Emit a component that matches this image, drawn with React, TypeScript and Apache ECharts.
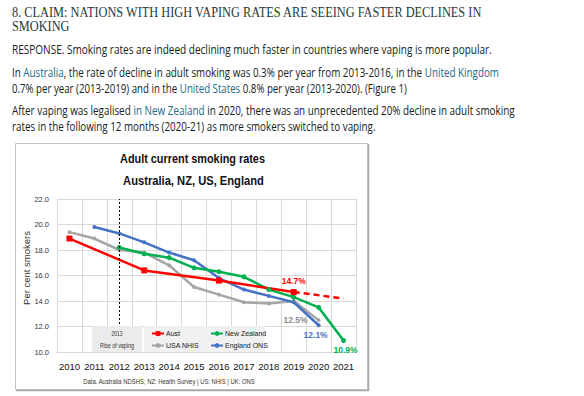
import React, { useEffect, useRef } from "react";
import * as echarts from "echarts";

const years = ["2010", "2011", "2012", "2013", "2014", "2015", "2016", "2017", "2018", "2019", "2020", "2021"];
const austValues = [18.9, null, null, 16.4, null, null, 15.6, null, null, 14.7, null, null];
const austProjection = [null, null, null, null, null, null, null, null, null, 14.7, null, 14.2];
const usaValues = [19.4, 18.9, 18.0, 17.8, 16.8, 15.1, 14.5, 13.9, 13.8, 14.0, 12.5, null];
const nzValues = [null, null, 18.2, 17.7, 17.4, 16.6, 16.3, 15.9, 14.9, 14.3, 13.5, 10.9];
const engValues = [null, 19.8, 19.3, 18.6, 17.8, 17.2, 15.8, 14.9, 14.4, 13.9, 12.1, null];
const yTicks = { min: 10, max: 22, interval: 2 };

const SANS = "'Liberation Sans', sans-serif";
const SERIF = "'Liberation Serif', serif";
const BODY = "'Open Sans', sans-serif";
const RED = "#ff0000";
const GRAY = "#a5a5a5";
const BLUE = "#4472c4";
const GREEN = "#00b050";
const TXT = "#142222";
const LINK = "#1a6a88";

function measure(text: string, font: string): number {
  const ctx = document.createElement("canvas").getContext("2d")!;
  ctx.font = font;
  return ctx.measureText(text).width;
}

type Seg = [string, boolean];

function richLine(segs: Seg[], x: number, y: number, target: number, size: number) {
  const plain = segs.map((s) => s[0]).join("");
  const w = measure(plain, `${size}px ${BODY}`);
  const text = segs.map((s) => `{${s[1] ? "l" : "a"}|${s[0]}}`).join("");
  return {
    type: "text",
    x,
    y,
    scaleX: target / w,
    style: {
      text,
      textAlign: "left",
      verticalAlign: "middle",
      rich: {
        a: { fill: TXT, fontSize: size, fontFamily: BODY },
        l: { fill: LINK, fontSize: size, fontFamily: BODY },
      },
    },
  };
}

function fitText(
  text: string,
  x: number,
  y: number,
  target: number,
  size: number,
  family: string,
  fill: string,
  weight: string = "normal",
  align: string = "center",
  z: number = 5
) {
  const w = measure(text, `${weight} ${size}px ${family}`);
  return {
    type: "text",
    x,
    y,
    z,
    scaleX: target / w,
    style: {
      text,
      fill,
      fontSize: size,
      fontFamily: family,
      fontWeight: weight,
      textAlign: align,
      verticalAlign: "middle",
    },
  };
}

export default function App() {
  const ref = useRef<HTMLDivElement>(null);
  useEffect(() => {
    document.body.style.margin = "0";
    const chart = echarts.init(ref.current!, null, { renderer: "svg" });
    const labelFont = { fontFamily: SANS, fontWeight: "bold" as const, fontSize: 8.5 };
    const legendText = { fontFamily: SANS, fontSize: 7, color: "#222", padding: [0, 0, 0, -3] };
    const option: any = {
      animation: false,
      backgroundColor: "#ffffff",
      grid: { left: 57, right: 228, top: 199, bottom: 44 },
      xAxis: {
        type: "category",
        data: years,
        boundaryGap: true,
        axisLine: { lineStyle: { color: "#d9d9d9" } },
        axisTick: { show: false },
        splitLine: { show: true, interval: 0, lineStyle: { color: "#d9d9d9", width: 1 } },
        axisLabel: { color: "#111", fontFamily: SANS, fontSize: 9.5, margin: 9, interval: 0 },
      },
      yAxis: {
        type: "value",
        min: yTicks.min,
        max: yTicks.max,
        interval: yTicks.interval,
        axisLine: { show: false },
        axisTick: { show: false },
        splitLine: { lineStyle: { color: "#d9d9d9", width: 1 } },
        axisLabel: {
          color: "#333",
          fontFamily: SANS,
          fontSize: 7.5,
          margin: 8,
          formatter: (v: number) => v.toFixed(1),
        },
      },
      legend: [
        {
          data: ["Aust", "USA NHIS"],
          orient: "vertical",
          left: 151,
          top: 330,
          itemWidth: 12,
          itemHeight: 6,
          itemGap: 5,
          padding: 0,
          z: 30,
          textStyle: legendText,
        },
        {
          data: ["New Zealand", "England ONS"],
          orient: "vertical",
          left: 210,
          top: 330,
          itemWidth: 12,
          itemHeight: 6,
          itemGap: 5,
          padding: 0,
          z: 30,
          textStyle: legendText,
        },
      ],
      series: [
        {
          name: "USA NHIS",
          type: "line",
          data: usaValues.map((v, i) =>
            i === 10
              ? {
                  value: v,
                  label: {
                    show: true,
                    position: "left",
                    distance: 9,
                    formatter: "12.5%",
                    color: "#8c8c8c",
                    ...labelFont,
                  },
                }
              : v
          ),
          connectNulls: true,
          symbol: "circle",
          symbolSize: 4,
          lineStyle: { color: GRAY, width: 2.5 },
          itemStyle: { color: GRAY },
          markLine: {
            silent: true,
            symbol: ["none", "none"],
            label: { show: false },
            lineStyle: { color: "#000", type: [2, 2], width: 1 },
            data: [{ xAxis: 2 }],
          },
        },
        {
          name: "England ONS",
          type: "line",
          data: engValues.map((v, i) =>
            i === 10
              ? {
                  value: v,
                  label: {
                    show: true,
                    position: "bottom",
                    distance: 3,
                    offset: [-3, 0],
                    formatter: "12.1%",
                    color: BLUE,
                    ...labelFont,
                  },
                }
              : v
          ),
          connectNulls: true,
          symbol: "circle",
          symbolSize: 4,
          lineStyle: { color: BLUE, width: 2.5 },
          itemStyle: { color: BLUE },
        },
        {
          name: "New Zealand",
          type: "line",
          data: nzValues.map((v, i) =>
            i === 11
              ? {
                  value: v,
                  label: {
                    show: true,
                    position: "bottom",
                    distance: 2,
                    offset: [2, 0],
                    formatter: "10.9%",
                    color: GREEN,
                    ...labelFont,
                  },
                }
              : v
          ),
          connectNulls: true,
          symbol: "circle",
          symbolSize: 5,
          lineStyle: { color: GREEN, width: 2.5 },
          itemStyle: { color: GREEN },
        },
        {
          name: "Aust",
          type: "line",
          data: austValues.map((v, i) =>
            i === 9
              ? {
                  value: v,
                  label: {
                    show: true,
                    position: "top",
                    distance: 4,
                    formatter: "14.7%",
                    color: RED,
                    ...labelFont,
                  },
                }
              : v
          ),
          connectNulls: true,
          symbol: "rect",
          symbolSize: 6,
          lineStyle: { color: RED, width: 2.5 },
          itemStyle: { color: RED },
        },
        {
          name: "Aust projection",
          type: "line",
          data: austProjection,
          connectNulls: true,
          showSymbol: false,
          symbol: "none",
          lineStyle: { color: RED, width: 2.5, type: [6, 4] },
          itemStyle: { color: RED },
        },
      ],
      graphic: {
        elements: [
          fitText("8. CLAIM: NATIONS WITH HIGH VAPING RATES ARE SEEING FASTER DECLINES IN", 12, 12, 471, 15, SERIF, "#1f3a39", "normal", "left"),
          fitText("SMOKING", 12, 26, 57.5, 15, SERIF, "#1f3a39", "normal", "left"),
          richLine(
            [["RESPONSE. Smoking rates are indeed declining much faster in countries where vaping is more popular.", false]],
            12, 49, 480, 12.5
          ),
          richLine(
            [
              ["In ", false],
              ["Australia", true],
              [", the rate of decline in adult smoking was 0.3% per year from 2013-2016, in the ", false],
              ["United Kingdom", true],
            ],
            12, 72, 487, 12.5
          ),
          richLine(
            [
              ["0.7% per year (2013-2019) and in the ", false],
              ["United States", true],
              [" 0.8% per year (2013-2020). (Figure 1)", false],
            ],
            12, 88, 395, 12.5
          ),
          richLine(
            [
              ["After vaping was legalised ", false],
              ["in New Zealand", true],
              [" in 2020, there was an unprecedented 20% decline in adult smoking", false],
            ],
            12, 110, 503, 12.5
          ),
          richLine(
            [["rates in the following 12 months (2020-21) as more smokers switched to vaping.", false]],
            12, 126, 364, 12.5
          ),
          {
            type: "rect",
            z: 1,
            shape: { x: 15.5, y: 143.5, width: 352, height: 246 },
            style: { fill: "none", stroke: "#c4c4c4", lineWidth: 1 },
          },
          {
            type: "polyline",
            z: 1,
            shape: { points: [[368.5, 144], [368.5, 390.5], [16, 390.5]] },
            style: { fill: "none", stroke: "#a8a8a8", lineWidth: 1.5 },
          },
          fitText("Adult current smoking rates", 192.5, 159, 145, 13.5, SANS, "#111", "bold"),
          fitText("Australia, NZ, US, England", 193.5, 181, 141, 13.5, SANS, "#111", "bold"),
          {
            type: "text",
            x: 26,
            y: 268,
            rotation: Math.PI / 2,
            style: {
              text: "Per cent smokers",
              fill: "#333",
              fontFamily: SANS,
              fontSize: 9.5,
              textAlign: "center",
              verticalAlign: "middle",
            },
          },
          {
            type: "rect",
            z: 10,
            shape: { x: 92, y: 326, width: 50, height: 26 },
            style: { fill: "#ebebeb" },
          },
          fitText("2013", 117, 334, 11, 7, SANS, "#333", "normal", "center", 11),
          fitText("Rise of vaping", 117, 345, 34, 7, SANS, "#333", "normal", "center", 11),
          {
            type: "rect",
            z: 10,
            shape: { x: 144, y: 326, width: 121, height: 26 },
            style: { fill: "#f0f0f0" },
          },
          fitText("Data. Australia NDSHS; NZ: Health Survey | US: NHIS | UK: ONS", 169, 381, 172, 7, SANS, "#333"),
        ],
      },
    };
    chart.setOption(option);
    return () => chart.dispose();
  }, []);
  return (
    <div
      ref={ref}
      style={{ position: "absolute", left: 0, top: 0, width: 584, height: 396 }}
    />
  );
}
